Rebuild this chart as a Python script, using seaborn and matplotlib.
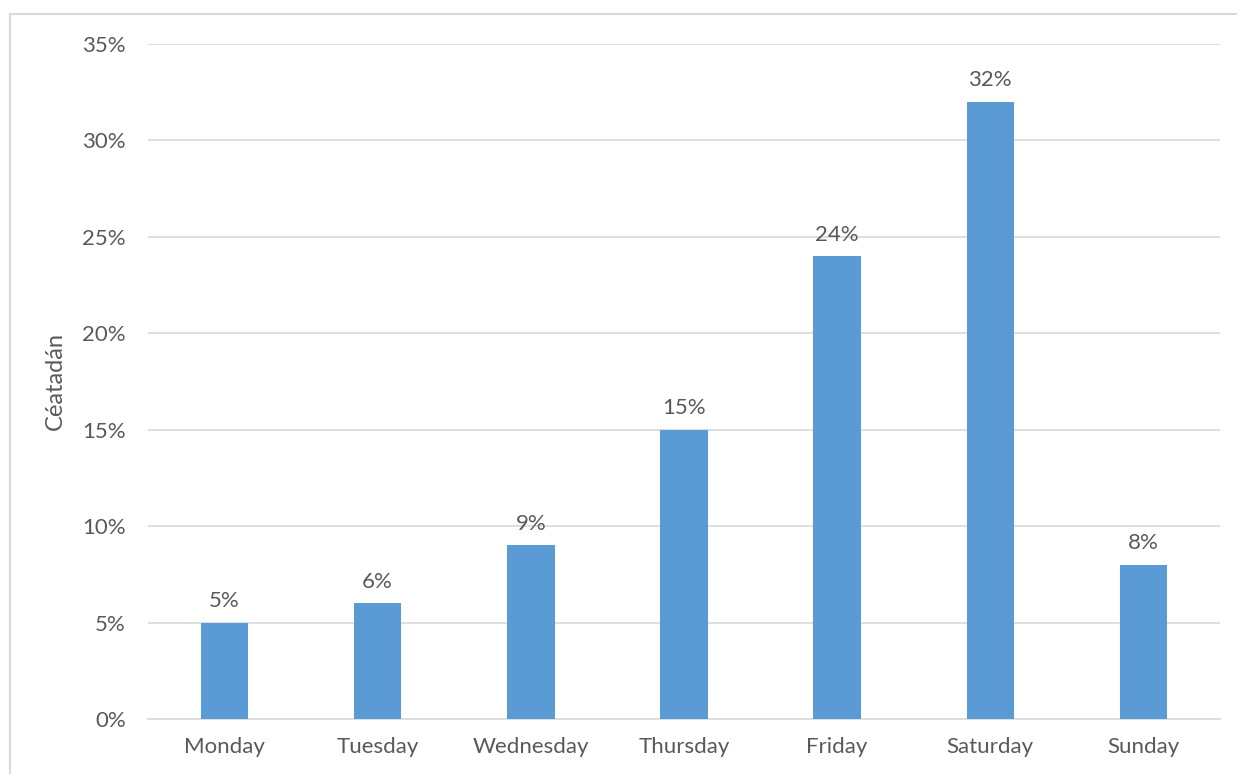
import matplotlib
matplotlib.use("Agg")
import matplotlib.pyplot as plt
import matplotlib.patches as patches
import seaborn as sns
import pandas as pd

days = ['Monday', 'Tuesday', 'Wednesday', 'Thursday', 'Friday', 'Saturday', 'Sunday']
percent = [5, 6, 9, 15, 24, 32, 8]
yticks = [0, 5, 10, 15, 20, 25, 30, 35]

df = pd.DataFrame({'day': days, 'pct': percent})

sns.set_style("white")
plt.rcParams['font.family'] = ['Lato', 'DejaVu Sans']
grey = '#595959'
fs = 16

fig = plt.figure(figsize=(12.37, 7.74), dpi=100)
ax = fig.add_axes([0.1196, 0.0711, 0.8667, 0.8721])

sns.barplot(data=df, x='day', y='pct', color='#5B9BD5', width=0.31,
            saturation=1, linewidth=0, edgecolor='none', ax=ax, zorder=3)

for i, v in enumerate(percent):
    ax.text(i, v + 0.6, f'{v}%', ha='center', va='bottom', fontsize=fs, color=grey)

ax.set_ylim(0, 35)
ax.set_xlim(-0.5, len(days) - 0.5)
ax.set_yticks(yticks)
ax.set_yticklabels([f'{t}%' for t in yticks])
ax.yaxis.grid(True, color='#D9D9D9', linewidth=1.2, zorder=0)
ax.set_axisbelow(True)
for s in ['top', 'right', 'left']:
    ax.spines[s].set_visible(False)
ax.spines['bottom'].set_color('#D9D9D9')
ax.spines['bottom'].set_linewidth(1.2)
ax.tick_params(axis='both', length=0, labelsize=fs, labelcolor=grey)
ax.tick_params(axis='y', pad=16)
ax.tick_params(axis='x', pad=13)
ax.set_xlabel('')
ax.set_ylabel('Céatadán', fontsize=17, color=grey, labelpad=12)

# outer chart frame
fig.patches.append(patches.Rectangle((10 / 1237, -0.1), 1.2, 1 - 14 / 774 + 0.1,
                                     transform=fig.transFigure, fill=False,
                                     edgecolor='#D9D9D9', linewidth=1.5))

fig.savefig('out.png', dpi=100)
